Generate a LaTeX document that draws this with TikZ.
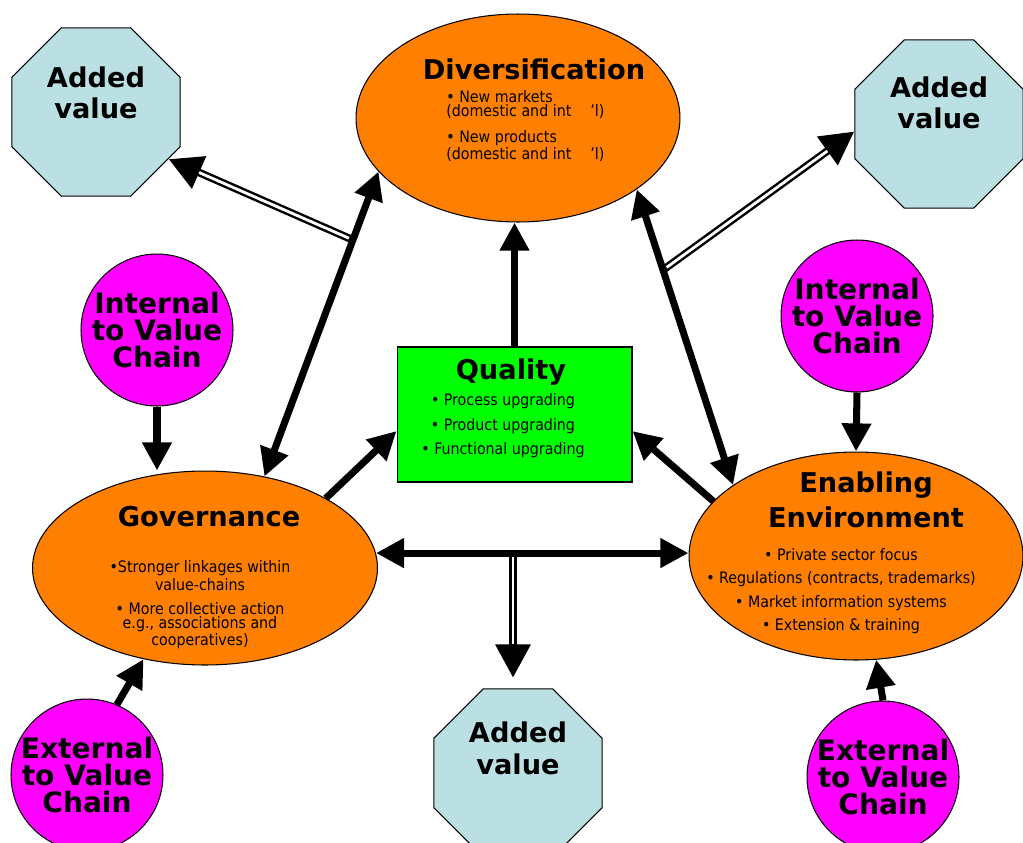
\documentclass[tikz,border=0pt]{standalone}
\usepackage{fontspec}
\setmainfont{DejaVu Sans}
\newfontfamily\condfont{DejaVu Sans Condensed}
\usepackage{tikz}
\usetikzlibrary{arrows.meta,shapes.geometric}
\definecolor{vcOrange}{HTML}{FF8000}
\definecolor{vcValue}{HTML}{BBE0E3}
\definecolor{vcChain}{HTML}{FF00FF}
\definecolor{vcQuality}{HTML}{00FF00}
\tikzset{
  vc diagram/.style={x=0.02cm, y=-0.02cm},
  vc ellipse/.style={ellipse, draw=black, line width=0.6pt, fill=vcOrange},
  vc value/.style={regular polygon, regular polygon sides=8, draw=black,
    line width=0.6pt, fill=vcValue, minimum size=3.64cm},
  vc chain/.style={circle, draw=black, line width=0.6pt, fill=vcChain,
    minimum size=3.04cm, inner sep=0pt, align=center,
    font=\bfseries\fontsize{16}{15.3}\selectfont},
  vc box/.style={rectangle, draw=black, line width=0.6pt, fill=vcQuality,
    minimum width=4.7cm, minimum height=2.7cm},
  vc title/.style={font=\bfseries\fontsize{15.5}{18}\selectfont,
    align=center, inner sep=0pt},
  vc points/.style={font=\condfont\fontsize{9}{#1}\selectfont,
    align=center, inner sep=0pt},
  vc points/.default=8,
  vc arrow/.style={-{Triangle[length=16pt,width=16pt]}, line width=4pt},
  vc both/.style={vc arrow,
    {Triangle[length=16pt,width=16pt]}-{Triangle[length=16pt,width=16pt]}},
  vc gain/.style={-{Triangle[length=19pt,width=19pt]}, line width=4.4pt,
    postaction={draw=white, line width=1.6pt, -, shorten >=19pt,
      shorten <=2.5pt}}
}
\begin{document}
\begin{tikzpicture}[vc diagram]
\useasboundingbox (0,0) rectangle (1023,842);
% shapes
\node[vc value] (av1) at (96,112) {};
\node[vc value] (av2) at (939,124) {};
\node[vc value] (av3) at (518,773) {};
\node[vc ellipse, minimum width=6.48cm, minimum height=4.16cm] (div) at (518,118) {};
\node[vc ellipse, minimum width=6.9cm, minimum height=3.88cm] (gov) at (205,568) {};
\node[vc ellipse, minimum width=6.68cm, minimum height=4.16cm] (enab) at (856,556) {};
\node[vc box] (qual) at (514.5,414.5) {};
\node[vc chain] (int1) at (157,330) {Internal\\to Value\\Chain};
\node[vc chain] (int2) at (857,316) {Internal\\to Value\\Chain};
\node[vc chain] (ext1) at (87,775) {External\\to Value\\Chain};
\node[vc chain] (ext2) at (883,777) {External\\to Value\\Chain};

% where the added value branches leave the main arrows
\coordinate (gdsplit) at (353,240);
\coordinate (edsplit) at (663,270);
\coordinate (gesplit) at (513,553);
\draw[vc gain] (gdsplit) -- (av1.327);
\draw[vc gain] (edsplit) -- (av2.185);
\draw[vc gain] (gesplit) -- ([yshift=6pt]gesplit |- av3.north);

% main arrows
\draw[vc both] (gov.57) -- (div.201);
\draw[vc both] (enab.150) -- (div.329);
\draw[vc both] (gov.5) -- (gov.5 -| enab.west);
\draw[vc arrow] (qual.north) -- (qual.north |- div.south);
\draw[vc arrow] (gov.30) -- (qual.188);
\draw[vc arrow] (enab.159) -- (qual.352);
\draw[vc arrow] (int1.south) -- (int1.south |- gov.north);
\draw[vc arrow] (int2.south) -- (enab.north);
\draw[vc arrow] (ext1.67) -- (gov.236);
\draw[vc arrow] (ext2.north) -- (enab.281);

% texts
\node[vc title] (av1t) at ([yshift=11pt]av1) {Added\\value};
\node[vc title] (av2t) at ([yshift=12pt]av2) {Added\\value};
\node[vc title] (av3t) at ([yshift=14pt]av3) {Added\\value};
\node[vc title] (divt) at (534,69) {Diversification};
\node[vc points, align=left, anchor=west] (divp) at (446,126)
  {• New markets\\(domestic and int\hspace{1.2em}’l)\\[6pt]
   • New products\\(domestic and int\hspace{1.2em}’l)};
\node[vc title] (govt) at (209,517) {Governance};
\node[vc points] (govp) at (200,605)
  {•Stronger linkages within\\value-chains\\[6pt]
   • More collective action\\e.g., associations and\\cooperatives)};
\node[vc title] (enabt) at (866,500) {Enabling\\[2pt]Environment};
\node[vc points=13.3] (enabp) at (841,591)
  {• Private sector focus\\• Regulations (contracts, trademarks)\\
   • Market information systems\\• Extension \& training};
\node[vc title] (qualt) at (511,372) {Quality};
\node[vc points=14] (qualp) at (503,426)
  {• Process upgrading\\• Product upgrading\\• Functional upgrading};
\end{tikzpicture}
\end{document}
